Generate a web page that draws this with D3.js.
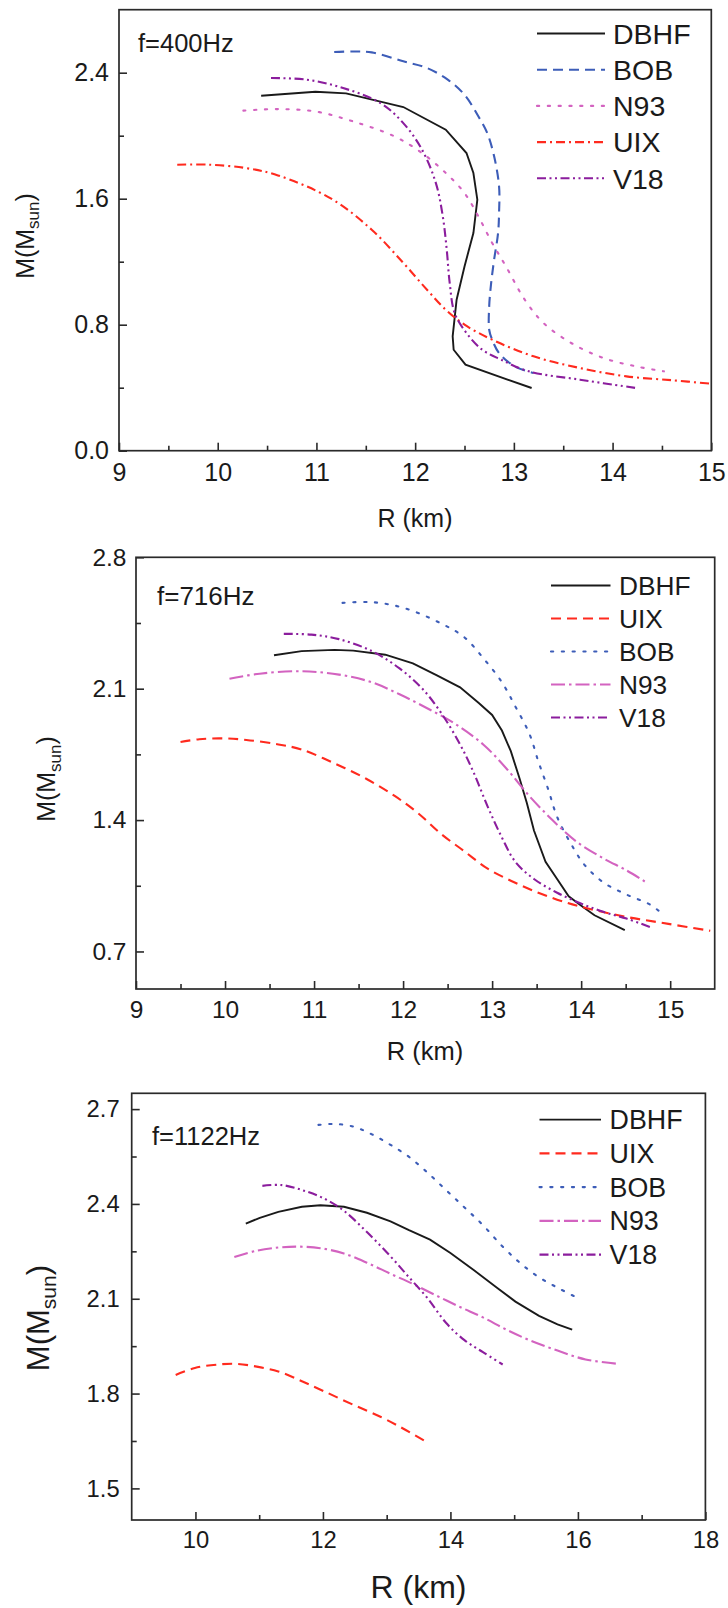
<!DOCTYPE html>
<html><head><meta charset="utf-8">
<script src="https://cdn.jsdelivr.net/npm/d3@7"></script>
<style>
body{margin:0;background:#fff}
svg{display:block}
text{font-family:"Liberation Sans",Arial,Helvetica,sans-serif;fill:#1a1a1a}
</style>
</head><body>
<svg id="c" width="728" height="1608"></svg>
<script>
// ---------------- DATA ----------------
// Panel 1 (f=400Hz): [R (km), M (Msun)]
const p1_DBHF = [[10.44,2.254],[10.99,2.279],[11.30,2.269],[11.88,2.182],[12.31,2.038],[12.52,1.890],[12.59,1.763],[12.63,1.594],[12.59,1.382],[12.50,1.170],[12.42,0.959],[12.38,0.726],[12.39,0.641],[12.51,0.546],[13.18,0.398]];
const p1_BOB = [[11.18,2.531],[11.37,2.535],[11.56,2.529],[11.88,2.472],[12.12,2.430],[12.33,2.356],[12.50,2.260],[12.64,2.123],[12.73,2.017],[12.80,1.869],[12.85,1.678],[12.85,1.509],[12.84,1.382],[12.80,1.213],[12.77,1.065],[12.75,0.916],[12.75,0.768],[12.78,0.705],[12.85,0.620],[13.01,0.535],[13.20,0.493]];
const p1_N93 = [[10.26,2.159],[10.61,2.169],[10.99,2.154],[11.37,2.091],[11.79,1.996],[12.07,1.890],[12.31,1.763],[12.50,1.636],[12.64,1.488],[12.78,1.319],[12.92,1.170],[13.11,0.959],[13.30,0.811],[13.58,0.684],[13.91,0.588],[14.24,0.535],[14.52,0.504]];
const p1_UIX = [[9.59,1.816],[9.91,1.816],[10.28,1.795],[10.61,1.748],[11.15,1.600],[11.56,1.403],[11.88,1.192],[12.12,1.022],[12.31,0.895],[12.50,0.800],[12.78,0.705],[13.20,0.599],[13.67,0.525],[14.14,0.472],[14.61,0.447],[15.0,0.425]];
const p1_V18 = [[10.54,2.366],[10.90,2.356],[11.27,2.303],[11.65,2.207],[11.88,2.080],[12.07,1.911],[12.21,1.699],[12.28,1.488],[12.32,1.276],[12.35,1.065],[12.40,0.874],[12.52,0.747],[12.68,0.641],[12.87,0.578],[13.15,0.504],[13.67,0.451],[14.24,0.398]];

// Panel 2 (f=716Hz)
const p2_DBHF = [[10.55,2.278],[10.86,2.300],[11.23,2.307],[11.44,2.303],[11.80,2.281],[12.11,2.235],[12.38,2.171],[12.64,2.107],[12.85,2.024],[13.00,1.960],[13.11,1.877],[13.21,1.767],[13.31,1.619],[13.39,1.491],[13.47,1.344],[13.60,1.178],[13.73,1.086],[13.86,0.994],[13.99,0.948],[14.15,0.893],[14.49,0.814]];
const p2_UIX = [[9.50,1.816],[9.71,1.831],[9.98,1.835],[10.24,1.827],[10.60,1.803],[10.86,1.776],[11.23,1.702],[11.59,1.619],[11.91,1.527],[12.17,1.436],[12.43,1.325],[12.69,1.233],[12.95,1.141],[13.21,1.077],[13.47,1.022],[13.73,0.976],[13.99,0.939],[14.51,0.884],[14.98,0.847],[15.45,0.810]];
const p2_BOB = [[11.32,2.557],[11.65,2.561],[12.01,2.530],[12.43,2.447],[12.69,2.373],[12.90,2.263],[13.11,2.134],[13.26,2.006],[13.42,1.858],[13.52,1.711],[13.63,1.564],[13.73,1.417],[13.89,1.270],[14.04,1.160],[14.25,1.068],[14.51,1.003],[14.78,0.948],[14.93,0.893]];
const p2_N93 = [[10.05,2.153],[10.39,2.180],[10.86,2.193],[11.28,2.175],[11.65,2.134],[11.96,2.070],[12.27,1.996],[12.58,1.914],[12.90,1.803],[13.16,1.675],[13.42,1.527],[13.68,1.399],[13.94,1.288],[14.25,1.196],[14.51,1.132],[14.72,1.071]];
const p2_V18 = [[10.66,2.392],[10.97,2.388],[11.28,2.364],[11.65,2.300],[11.96,2.208],[12.22,2.098],[12.43,1.969],[12.64,1.803],[12.79,1.656],[12.95,1.472],[13.11,1.307],[13.26,1.178],[13.47,1.086],[13.73,1.013],[13.99,0.957],[14.25,0.911],[14.51,0.875],[14.78,0.829]];

// Panel 3 (f=1122Hz)
const p3_DBHF = [[10.79,2.338],[11.01,2.356],[11.30,2.375],[11.67,2.391],[11.96,2.396],[12.33,2.391],[12.69,2.372],[13.06,2.345],[13.35,2.317],[13.68,2.287],[14.00,2.245],[14.37,2.190],[14.73,2.135],[15.02,2.091],[15.39,2.046],[15.68,2.019],[15.91,2.002]];
const p3_UIX = [[9.69,1.859],[9.99,1.881],[10.36,1.892],[10.65,1.894],[10.94,1.886],[11.30,1.870],[11.67,1.839],[12.03,1.806],[12.47,1.765],[12.91,1.726],[13.27,1.688],[13.59,1.651]];
const p3_BOB = [[11.93,2.650],[12.18,2.653],[12.47,2.645],[12.76,2.621],[13.06,2.587],[13.35,2.549],[13.64,2.499],[13.93,2.444],[14.22,2.389],[14.51,2.333],[14.81,2.267],[15.10,2.212],[15.39,2.168],[15.68,2.135],[15.95,2.107]];
const p3_N93 = [[10.61,2.232],[10.94,2.251],[11.30,2.262],[11.60,2.265],[11.96,2.260],[12.33,2.243],[12.69,2.214],[13.06,2.179],[13.42,2.146],[13.78,2.110],[14.15,2.074],[14.51,2.041],[14.88,2.002],[15.24,1.969],[15.68,1.936],[16.12,1.908],[16.63,1.894]];
const p3_V18 = [[11.05,2.457],[11.34,2.460],[11.67,2.444],[12.03,2.416],[12.33,2.378],[12.69,2.311],[13.06,2.234],[13.35,2.168],[13.64,2.102],[13.93,2.024],[14.22,1.969],[14.51,1.931],[14.82,1.892]];

// Legend order (categories)
const legend1 = ["DBHF","BOB","N93","UIX","V18"];
const legend2 = ["DBHF","UIX","BOB","N93","V18"];
const legend3 = ["DBHF","UIX","BOB","N93","V18"];

// Tick values
const p1XTicks = [9,10,11,12,13,14,15];
const p1XMinor = [9.5,10.5,11.5,12.5,13.5,14.5];
const p1YTicks = [0.0,0.8,1.6,2.4];
const p1YMinor = [0.4,1.2,2.0];
const p2XTicks = [9,10,11,12,13,14,15];
const p2XMinor = [9.5,10.5,11.5,12.5,13.5,14.5];
const p2YTicks = [0.7,1.4,2.1,2.8];
const p2YMinor = [1.05,1.75,2.45];
const p3XTicks = [10,12,14,16,18];
const p3XMinor = [11,13,15,17];
const p3YTicks = [1.5,1.8,2.1,2.4,2.7];
const p3YMinor = [1.65,1.95,2.25,2.55];

// ---------------- STYLES ----------------
const COL = {DBHF:"#1a1a1a", BOB:"#3d5db8", N93:"#d363c0", UIX:"#ff2a1e", V18:"#8b1d9d"};
const DASH = {
  solid:null,
  dashed:"10,6",
  dotted:"2.2,8.6",
  dashdot:"9,4,2,4",
  longdashdot:"14,4,2.5,4",
  dashdotdot:"9,3.5,2,3.5,2,3.5"
};
const style1 = {DBHF:"solid", BOB:"dashed", N93:"dotted", UIX:"dashdot", V18:"dashdotdot"};
const style23 = {DBHF:"solid", UIX:"dashed", BOB:"dotted", N93:"longdashdot", V18:"dashdotdot"};

const panels = [
  { title:"f=400Hz", series:{DBHF:p1_DBHF,BOB:p1_BOB,N93:p1_N93,UIX:p1_UIX,V18:p1_V18}, legend:legend1, styles:style1,
    xDom:[9,15], yDom:[0,2.8], xR:[119,711.3], yR:[450.7,9.7],
    xT:p1XTicks, xM:p1XMinor, yT:p1YTicks, yM:p1YMinor, tickFs:25, xPad:13, yPad:10,
    titleX:138, titleY:52, titleFs:25.5,
    legX1:537, legX2:605, legTX:613, legY0:33.5, legDY:36.2, legFs:28.5,
    xtX:415, xtY:527, xtFs:25, ytX:33.5, ytY:236, ytFs:25 },
  { title:"f=716Hz", series:{DBHF:p2_DBHF,UIX:p2_UIX,BOB:p2_BOB,N93:p2_N93,V18:p2_V18}, legend:legend2, styles:style23,
    xDom:[9,15.5], yDom:[0.5,2.8], xR:[136,714.7], yR:[989,557.3],
    xT:p2XTicks, xM:p2XMinor, yT:p2YTicks, yM:p2YMinor, tickFs:24.5, xPad:11.5, yPad:9.5,
    titleX:157, titleY:605, titleFs:26,
    legX1:551, legX2:610.5, legTX:619, legY0:585.5, legDY:33, legFs:26.3,
    xtX:425, xtY:1060, xtFs:25.5, ytX:55, ytY:779, ytFs:25 },
  { title:"f=1122Hz", series:{DBHF:p3_DBHF,UIX:p3_UIX,BOB:p3_BOB,N93:p3_N93,V18:p3_V18}, legend:legend3, styles:style23,
    xDom:[9,18], yDom:[1.4,2.75], xR:[131.7,705.4], yR:[1520,1093.3],
    xT:p3XTicks, xM:p3XMinor, yT:p3YTicks, yM:p3YMinor, tickFs:23.8, xPad:11.5, yPad:12,
    titleX:152, titleY:1145, titleFs:25.5,
    legX1:539.5, legX2:601, legTX:609.6, legY0:1119.6, legDY:33.75, legFs:26.8,
    xtX:418.5, xtY:1598, xtFs:32, ytX:49, ytY:1318, ytFs:31 }
];

const svg = d3.select("#c");
const AX = "#2a2a2a";
const FONT = '"Liberation Sans",Arial,Helvetica,sans-serif';

panels.forEach(cfg => {
  const g = svg.append("g");
  const x = d3.scaleLinear().domain(cfg.xDom).range(cfg.xR);
  const y = d3.scaleLinear().domain(cfg.yDom).range(cfg.yR);

  // curves
  Object.keys(cfg.series).forEach(name => {
    const st = cfg.styles[name];
    const line = d3.line().x(d => x(d[0])).y(d => y(d[1]))
      .curve(name === "DBHF" ? d3.curveLinear : d3.curveCatmullRom.alpha(0.5));
    g.append("path").datum(cfg.series[name])
      .attr("d", line).attr("fill","none")
      .attr("stroke", COL[name])
      .attr("stroke-width", name === "DBHF" ? 1.9 : 2.1)
      .attr("stroke-dasharray", DASH[st])
      .attr("stroke-linecap", st === "dotted" ? "round" : "butt");
  });

  // axes
  const styleAxis = s => {
    s.select(".domain").remove();
    s.attr("font-family", FONT).attr("color", AX);
    s.selectAll(".tick line").attr("stroke-width", 1.6);
    s.selectAll(".tick text").attr("fill", "#1a1a1a");
  };
  g.append("g").attr("transform", `translate(0,${cfg.yR[0]})`)
    .call(d3.axisBottom(x).tickValues(cfg.xT).tickSize(-8).tickSizeOuter(0).tickPadding(cfg.xPad).tickFormat(d3.format("d")))
    .attr("font-size", cfg.tickFs).call(styleAxis);
  g.append("g").attr("transform", `translate(0,${cfg.yR[0]})`)
    .call(d3.axisBottom(x).tickValues(cfg.xM).tickSize(-5).tickSizeOuter(0).tickFormat(""))
    .call(styleAxis);
  g.append("g").attr("transform", `translate(${cfg.xR[0]},0)`)
    .call(d3.axisLeft(y).tickValues(cfg.yT).tickSize(-8).tickSizeOuter(0).tickPadding(cfg.yPad).tickFormat(d3.format(".1f")))
    .attr("font-size", cfg.tickFs).call(styleAxis);
  g.append("g").attr("transform", `translate(${cfg.xR[0]},0)`)
    .call(d3.axisLeft(y).tickValues(cfg.yM).tickSize(-5).tickSizeOuter(0).tickFormat(""))
    .call(styleAxis);

  // frame
  g.append("rect")
    .attr("x", cfg.xR[0]).attr("y", cfg.yR[1])
    .attr("width", cfg.xR[1] - cfg.xR[0]).attr("height", cfg.yR[0] - cfg.yR[1])
    .attr("fill","none").attr("stroke", AX).attr("stroke-width", 1.7);

  // title
  g.append("text").attr("x", cfg.titleX).attr("y", cfg.titleY)
    .attr("font-size", cfg.titleFs).text(cfg.title);

  // legend
  cfg.legend.forEach((name, i) => {
    const ly = cfg.legY0 + i * cfg.legDY;
    const st = cfg.styles[name];
    g.append("line").attr("x1", cfg.legX1).attr("x2", cfg.legX2).attr("y1", ly).attr("y2", ly)
      .attr("stroke", COL[name]).attr("stroke-width", name === "DBHF" ? 1.9 : 2.1)
      .attr("stroke-dasharray", DASH[st])
      .attr("stroke-linecap", st === "dotted" ? "round" : "butt");
    g.append("text").attr("x", cfg.legTX).attr("y", ly + 0.36 * cfg.legFs)
      .attr("font-size", cfg.legFs).text(name);
  });

  // x title
  g.append("text").attr("x", cfg.xtX).attr("y", cfg.xtY)
    .attr("text-anchor","middle").attr("font-size", cfg.xtFs).text("R (km)");

  // y title
  const yt = g.append("text")
    .attr("transform", `translate(${cfg.ytX},${cfg.ytY}) rotate(-90)`)
    .attr("text-anchor","middle").attr("font-size", cfg.ytFs);
  yt.append("tspan").text("M(M");
  yt.append("tspan").attr("font-size", cfg.ytFs * 0.68).attr("dy", cfg.ytFs * 0.22).text("sun");
  yt.append("tspan").attr("dy", -cfg.ytFs * 0.22).text(")");
});
</script>
</body></html>
